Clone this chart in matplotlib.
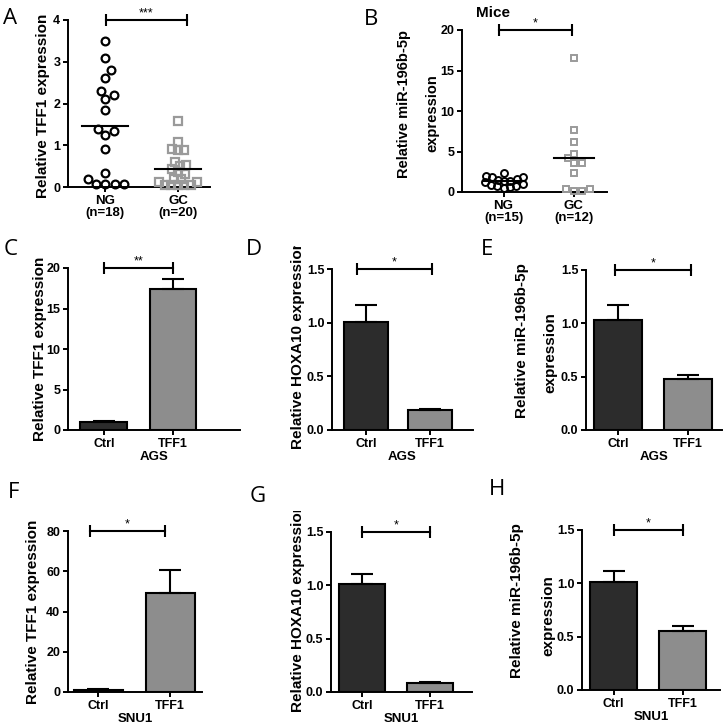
import numpy as np
import matplotlib.pyplot as plt
from matplotlib.transforms import Bbox

W, H = 725, 727
plt.rcParams["font.family"] = ["Liberation Sans", "DejaVu Sans"]
plt.rcParams["font.weight"] = "bold"
plt.rcParams["axes.labelweight"] = "bold"
plt.rcParams["axes.linewidth"] = 1.4

# ---- data ----
a_labels = ["NG\n(n=18)", "GC\n(n=20)"]
a_ng = [3.5, 3.1, 2.8, 2.62, 2.3, 2.2, 2.1, 1.85, 1.4, 1.35, 1.25, 0.9,
        0.33, 0.2, 0.08, 0.06, 0.06, 0.08]
a_gc = [1.58, 1.08, 0.88, 0.88, 0.9, 0.6, 0.5, 0.52, 0.42, 0.35, 0.3,
        0.2, 0.18, 0.12, 0.12, 0.04, 0.04, 0.04, 0.04, 0.04]

b_labels = ["NG\n(n=15)", "GC\n(n=12)"]
b_ng = [2.3, 2.0, 1.9, 1.9, 1.6, 1.5, 1.4, 1.3, 1.2, 1.0, 0.9, 0.8, 0.7,
        0.6, 0.5]
b_gc = [16.5, 7.6, 6.2, 4.7, 4.2, 3.6, 3.6, 2.4, 0.4, 0.1, 0.1, 0.4]

bar_labels = ["Ctrl", "TFF1"]
c_mean, c_err = [1.0, 17.4], [0.08, 1.2]
d_mean, d_err = [1.01, 0.19], [0.15, 0.01]
e_mean, e_err = [1.03, 0.48], [0.14, 0.04]
f_mean, f_err = [1.0, 49.2], [0.3, 11.4]
g_mean, g_err = [1.01, 0.08], [0.1, 0.01]
h_mean, h_err = [1.01, 0.55], [0.11, 0.05]

DARK = "#2c2c2c"
GREY = "#8d8d8d"
SQ = "#9a9a9a"


def px_axes(fig, l, t, r, b):
    return fig.add_axes([l / W, 1 - b / H, (r - l) / W, (b - t) / H])


def style(ax, ylim, yticks, fmt):
    ax.spines[["top", "right"]].set_visible(False)
    ax.set_ylim(*ylim)
    ax.set_yticks(yticks)
    ax.set_yticklabels([fmt.format(v) for v in yticks])
    ax.tick_params(width=1.4, length=3.5, labelsize=9, pad=2)


def bracket(ax, x0, x1, y, stars):
    ax.plot([x0, x1], [y, y], color="k", lw=1.5, marker="|", ms=8.5,
            mew=1.5, clip_on=False, zorder=5)
    ax.annotate(stars, ((x0 + x1) / 2, y), xytext=(0, 2.5),
                textcoords="offset points", ha="center", va="baseline",
                fontsize=9, fontweight="normal", annotation_clip=False)


def swarm(ax, center, values, gap):
    # simple beeswarm in pixel space
    ys = ax.transData.transform([(center, v) for v in values])[:, 1]
    order = np.argsort(ys)
    placed = []
    out = np.zeros(len(values))
    for i in order:
        y = ys[i]
        cands = [0.0]
        for px, py in placed:
            dy = y - py
            if abs(dy) < gap:
                dx = np.sqrt(gap ** 2 - dy ** 2)
                cands += [px + dx, px - dx]
        cands.sort(key=abs)
        for c in cands:
            if all((c - px) ** 2 + (y - py) ** 2 >= gap ** 2 - 1e-6
                   for px, py in placed):
                break
        placed.append((c, y))
        out[i] = c
    x0 = ax.transData.transform((center, 0))[0]
    inv = ax.transData.inverted()
    return [inv.transform((x0 + dx, 0))[0] for dx in out]


def ylabel(fig, x, y, text, clip_top=None, size=11):
    t = fig.text(x / W, 1 - y / H, text, rotation=90, ha="center",
                 va="center", fontsize=size)
    if clip_top is not None:
        t.set_clip_box(Bbox.from_extents(0, 0, W, H - clip_top))
        t.set_clip_on(True)


def dot_panel(ax, groups, labels, xlim, ylim, yticks, hw, msize, mew):
    ax.set_xlim(*xlim)
    style(ax, ylim, yticks, "{:g}")
    ax.set_xticks([1, 2])
    ax.set_xticklabels(labels, fontsize=9.5, linespacing=1.0)
    for pos, (vals, marker, col, gap) in zip([1, 2], groups):
        xs = swarm(ax, pos, vals, gap)
        ax.plot(xs, vals, ls="none", marker=marker, ms=msize, mfc="none",
                mec=col, mew=mew, clip_on=False, zorder=3)
        m = np.mean(vals)
        ax.plot([pos - hw, pos + hw], [m, m], color="k", lw=1.5, zorder=4)


def bar_panel(ax, means, errs, xlim, ylim, yticks, fmt, cell):
    ax.set_xlim(*xlim)
    style(ax, ylim, yticks, fmt)
    pos = [1, 2]
    ax.bar(pos, means, width=0.68, color=[DARK, GREY], edgecolor="k",
           linewidth=1.5, zorder=2)
    ax.errorbar(pos, means, yerr=[[0, 0], errs], fmt="none", ecolor="k",
                elinewidth=1.5, capsize=8, capthick=1.5, zorder=3,
                clip_on=False)
    ax.set_xticks(pos)
    ax.set_xticklabels(bar_labels, fontsize=9)
    ax.set_xlabel(cell, fontsize=9.5, labelpad=1)


fig = plt.figure(figsize=(W / 100, H / 100), dpi=100)

# A
ax = px_axes(fig, 68, 20, 210, 187)
dot_panel(ax, [(a_ng, "o", "k", 9.5), (a_gc, "s", SQ, 6.5)], a_labels,
          (0.49, 2.44), (0, 4), [0, 1, 2, 3, 4], 0.32, 5.6, 1.6)
bracket(ax, 1.01, 2.12, 4, "***")
ylabel(fig, 43, 106, "Relative TFF1 expression")

# B
ax = px_axes(fig, 462, 30, 607, 192)
dot_panel(ax, [(b_ng, "o", "k", 6.5), (b_gc, "s", SQ, 8.0)], b_labels,
          (0.41, 2.47), (0, 20), [0, 5, 10, 15, 20], 0.28, 5.0, 1.4)
bracket(ax, 0.93, 1.97, 20, "*")
fig.text(493 / W, 1 - 13 / H, "Mice", ha="center", va="center", fontsize=11)
ylabel(fig, 404, 104, "Relative miR-196b-5p", size=10.5)
ylabel(fig, 432, 113, "expression", size=10.5)

# C
ax = px_axes(fig, 68, 268, 240, 430)
bar_panel(ax, c_mean, c_err, (0.48, 2.97), (0, 20), [0, 5, 10, 15, 20],
          "{:g}", "AGS")
bracket(ax, 1.0, 2.0, 20, "**")
ylabel(fig, 40, 349, "Relative TFF1 expression")

# D
ax = px_axes(fig, 332, 269, 473, 430)
bar_panel(ax, d_mean, d_err, (0.47, 2.67), (0, 1.5), [0, 0.5, 1.0, 1.5],
          "{:.1f}", "AGS")
bracket(ax, 0.86, 2.03, 1.5, "*")
ylabel(fig, 298, 344, "Relative HOXA10 expression", clip_top=246)

# E
ax = px_axes(fig, 586, 270, 722, 430)
bar_panel(ax, e_mean, e_err, (0.54, 2.49), (0, 1.5), [0, 0.5, 1.0, 1.5],
          "{:.1f}", "AGS")
bracket(ax, 0.96, 2.04, 1.5, "*")
ylabel(fig, 522, 341, "Relative miR-196b-5p")
ylabel(fig, 550, 353, "expression")

# F
ax = px_axes(fig, 68, 531, 202, 692)
bar_panel(ax, f_mean, f_err, (0.58, 2.44), (0, 80), [0, 20, 40, 60, 80],
          "{:g}", "SNU1")
bracket(ax, 0.89, 1.92, 80, "*")
ylabel(fig, 33, 612, "Relative TFF1 expression")

# G
ax = px_axes(fig, 331, 532, 472, 692)
bar_panel(ax, g_mean, g_err, (0.54, 2.62), (0, 1.5), [0, 0.5, 1.0, 1.5],
          "{:.1f}", "SNU1")
bracket(ax, 1.0, 2.0, 1.5, "*")
ylabel(fig, 298, 607, "Relative HOXA10 expression", clip_top=511)

# H
ax = px_axes(fig, 582, 530, 720, 690)
bar_panel(ax, h_mean, h_err, (0.54, 2.54), (0, 1.5), [0, 0.5, 1.0, 1.5],
          "{:.1f}", "SNU1")
bracket(ax, 1.0, 2.0, 1.5, "*")
ylabel(fig, 517, 601, "Relative miR-196b-5p")
ylabel(fig, 548, 616, "expression")

# panel letters
letters = [("A", 3, 24), ("B", 364, 25), ("C", 4, 255), ("D", 246, 255),
           ("E", 481, 255), ("F", 8, 498), ("G", 250, 502), ("H", 489, 495)]
for s, x, y in letters:
    fig.text(x / W, 1 - y / H, s, ha="left", va="baseline", fontsize=16,
             fontweight="normal", family=["Open Sans", "DejaVu Sans"])

fig.savefig("out.png", dpi=100)
